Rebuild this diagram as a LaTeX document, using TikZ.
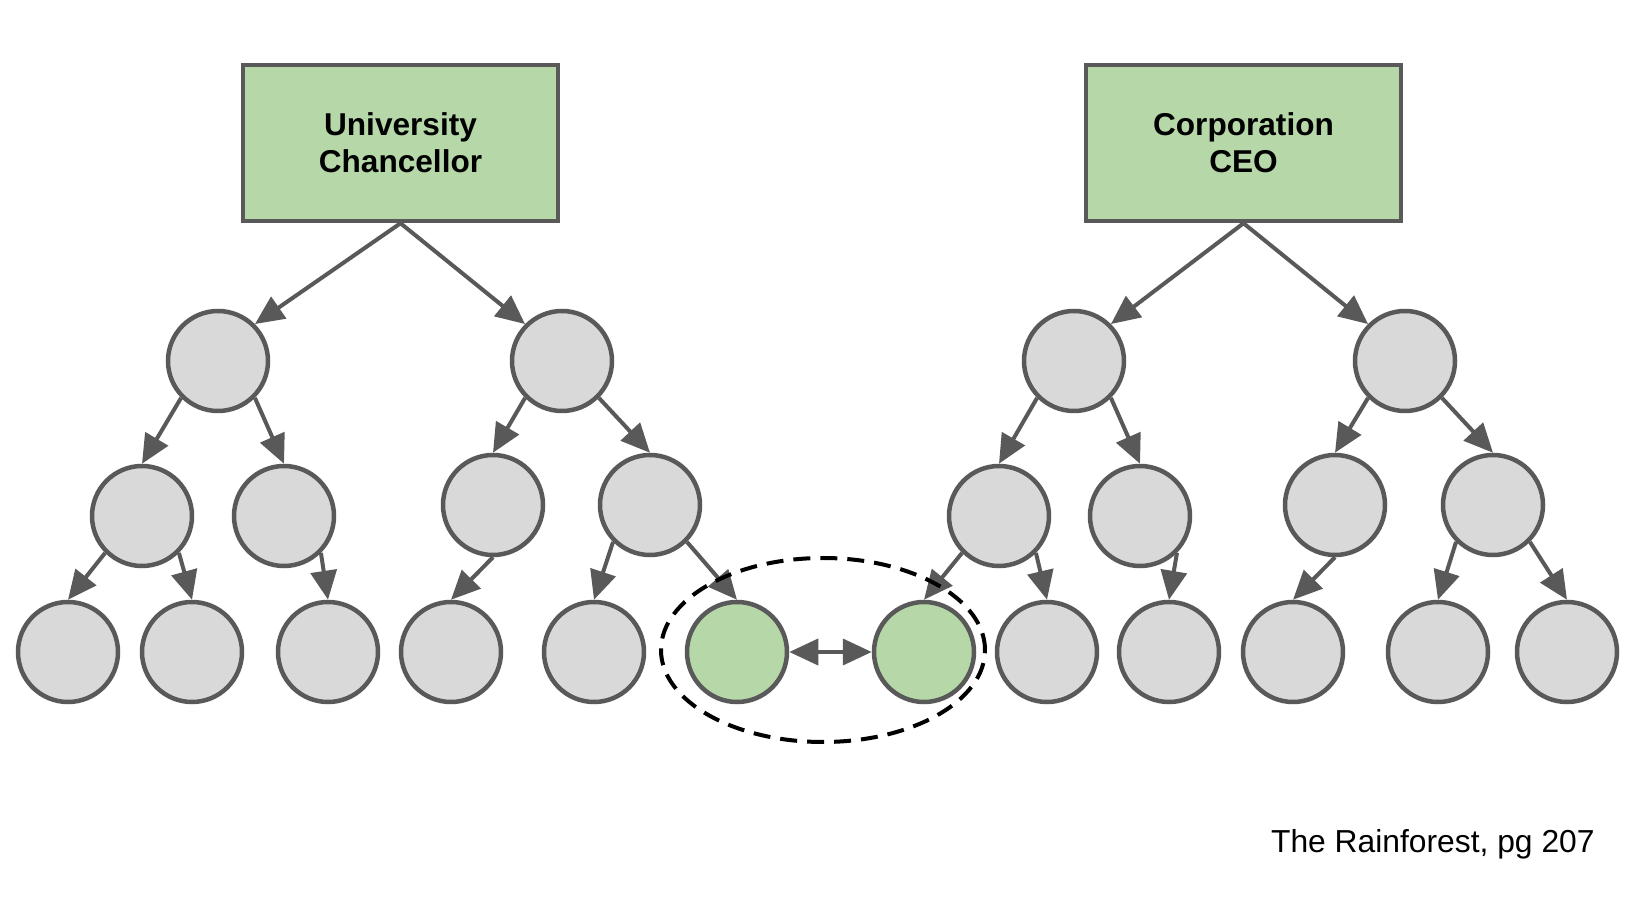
\documentclass[tikz,border=0pt]{standalone}
\usepackage{fontspec}
\setmainfont{Liberation Sans}
\usetikzlibrary{arrows.meta}

\definecolor{edgegray}{HTML}{595959}
\definecolor{nodegray}{HTML}{D9D9D9}
\definecolor{leafgreen}{HTML}{B6D7A8}

\begin{document}
\begin{tikzpicture}[x=0.5pt, y=-0.5pt,
  head/.style={draw=edgegray, line width=2.25pt, fill=leafgreen, minimum width=157.5pt, minimum height=78pt,
    align=center, font=\bfseries\fontsize{15.8}{18.5}\selectfont},
  person/.style={circle, draw=edgegray, line width=2.25pt, fill=nodegray, minimum size=50pt, inner sep=0pt},
  contact/.style={person, fill=leafgreen},
  link/.style={draw=edgegray, line width=2pt, -{Triangle[length=14.5pt, width=13pt]}},
  ring/.style={draw=black, line width=2pt, dash pattern=on 8.5pt off 5pt}]
\useasboundingbox (0, 0) rectangle (1630, 914);
\node[head] (uc) at (400.5, 143) {University\\Chancellor};
\node[head] (ceo) at (1243.5, 143) {Corporation\\CEO};
\node[person] (ua) at (218, 361) {};
\node[person] (ub) at (562, 361) {};
\node[person] (uaa) at (142, 516) {};
\node[person] (uab) at (284, 516) {};
\node[person] (uba) at (493, 505) {};
\node[person] (ubb) at (650, 505) {};
\node[person] (uaaa) at (68, 652) {};
\node[person] (uaab) at (192, 652) {};
\node[person] (uaba) at (328, 652) {};
\node[person] (ubaa) at (451, 652) {};
\node[person] (ubba) at (594, 652) {};
\node[contact] (ubbb) at (737, 652) {};
\node[person] (ca) at (1074, 361) {};
\node[person] (cb) at (1405, 361) {};
\node[person] (caa) at (999, 516) {};
\node[person] (cab) at (1140, 516) {};
\node[person] (cba) at (1335, 505) {};
\node[person] (cbb) at (1493, 505) {};
\node[contact] (caaa) at (924, 652) {};
\node[person] (caab) at (1047, 652) {};
\node[person] (caba) at (1169, 652) {};
\node[person] (cbaa) at (1293, 652) {};
\node[person] (cbba) at (1438, 652) {};
\node[person] (cbbb) at (1567, 652) {};
\foreach \from/\to in {uc.south/ua.north east, uc.south/ub.north west,
    ua.south west/uaa.north, ua.south east/uab.north,
    uaa.south west/uaaa.north, uaa.south east/uaab.north, uab.south east/uaba.north,
    ub.south west/uba.north, ub.south east/ubb.north,
    uba.south/ubaa.north, ubb.south west/ubba.north, ubb.south east/ubbb.north,
    ceo.south/ca.north east, ceo.south/cb.north west,
    ca.south west/caa.north, ca.south east/cab.north,
    caa.south west/caaa.north, caa.south east/caab.north, cab.south east/caba.north,
    cb.south west/cba.north, cb.south east/cbb.north,
    cba.south/cbaa.north, cbb.south west/cbba.north, cbb.south east/cbbb.north}
  \draw[link] (\from) -- (\to);
\draw[link, {Triangle[length=14.5pt, width=13pt]}-{Triangle[length=14.5pt, width=13pt]}] (ubbb) -- (caaa);
\draw[ring] (823, 650) ellipse [x radius=81pt, y radius=46pt];
\node[anchor=base east, inner sep=0pt, font=\fontsize{15.9}{20}\selectfont] (src) at (1595, 852) {The Rainforest, pg 207};
\end{tikzpicture}
\end{document}
